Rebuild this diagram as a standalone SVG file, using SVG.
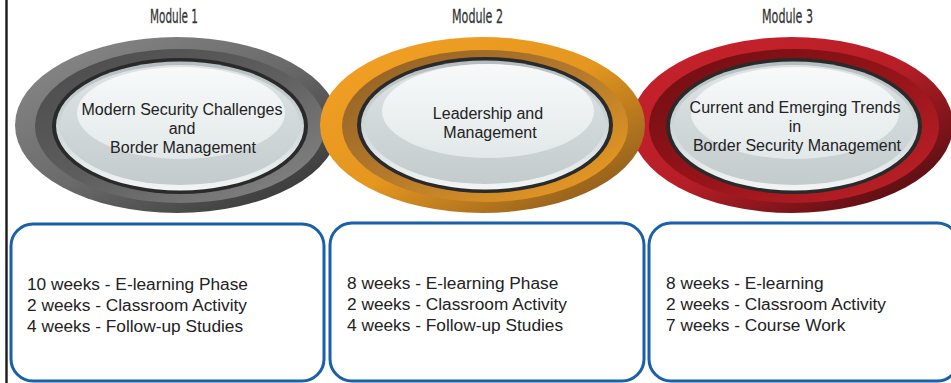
<svg xmlns="http://www.w3.org/2000/svg" width="951" height="383" viewBox="0 0 951 383">
<defs>
<linearGradient id="gOut" x1="0" y1="0" x2="1" y2="1"><stop offset="0" stop-color="#8c8c8c"/><stop offset="0.5" stop-color="#6a6a6a"/><stop offset="1" stop-color="#2c2c2c"/></linearGradient>
<linearGradient id="gBand" x1="0" y1="0" x2="1" y2="1"><stop offset="0" stop-color="#4a4a4a"/><stop offset="0.5" stop-color="#5e5e5e"/><stop offset="1" stop-color="#8a8a8a"/></linearGradient>
<linearGradient id="oOut" x1="0" y1="0" x2="1" y2="1"><stop offset="0" stop-color="#f5a125"/><stop offset="0.5" stop-color="#e4961f"/><stop offset="1" stop-color="#7a4e1c"/></linearGradient>
<linearGradient id="oBand" x1="0" y1="0" x2="1" y2="1"><stop offset="0" stop-color="#8f5f24"/><stop offset="0.5" stop-color="#b57a2c"/><stop offset="1" stop-color="#f2a020"/></linearGradient>
<linearGradient id="rOut" x1="0" y1="0" x2="1" y2="1"><stop offset="0" stop-color="#c8232c"/><stop offset="0.5" stop-color="#b81e27"/><stop offset="1" stop-color="#3c0a0c"/></linearGradient>
<linearGradient id="rBand" x1="0" y1="0" x2="1" y2="1"><stop offset="0" stop-color="#6e0e12"/><stop offset="0.5" stop-color="#941419"/><stop offset="1" stop-color="#c4222a"/></linearGradient>
<linearGradient id="rim" x1="0" y1="0" x2="0" y2="1"><stop offset="0" stop-color="#b4bdbf"/><stop offset="0.6" stop-color="#d5dcdd"/><stop offset="1" stop-color="#f2f5f5"/></linearGradient>
<linearGradient id="body" x1="0" y1="0" x2="0" y2="1"><stop offset="0" stop-color="#dfe5e6"/><stop offset="1" stop-color="#c3cbcd"/></linearGradient>
<linearGradient id="hi" x1="0" y1="0" x2="0" y2="1"><stop offset="0" stop-color="#f8fafa"/><stop offset="1" stop-color="#e2e8e9"/></linearGradient>
<style>
.ring{fill:#2a2a2a}
.rim{fill:url(#rim)}
.body{fill:url(#body)}
.hi{fill:url(#hi)}
.mod{font-family:"DejaVu Sans",sans-serif;font-size:19.5px;fill:#333;text-anchor:middle;stroke:#333;stroke-width:0.3}
.et{font-family:"Liberation Sans",Arial,sans-serif;font-size:16px;fill:#222;text-anchor:middle}
.bt{font-family:"Liberation Sans",Arial,sans-serif;font-size:17.3px;fill:#222}
.box{fill:#fff;stroke:#1a5fa9;stroke-width:3}
</style>
</defs>
<rect width="951" height="383" fill="#fff"/>
<line x1="6.5" y1="0" x2="6.5" y2="383" stroke="#1a1a1a" stroke-width="2.4"/>

<g id="labels">
<text class="mod" x="174" y="23" textLength="48" lengthAdjust="spacingAndGlyphs">Module 1</text>
<text class="mod" x="477.5" y="23" textLength="51" lengthAdjust="spacingAndGlyphs">Module 2</text>
<text class="mod" x="787.5" y="23" textLength="51" lengthAdjust="spacingAndGlyphs">Module 3</text>
</g>

<g id="module1">
<ellipse cx="177" cy="125" rx="162" ry="88" fill="url(#gOut)"/>
<ellipse cx="180" cy="126" rx="145" ry="77" fill="url(#gBand)"/>
<ellipse class="ring" cx="180" cy="126" rx="128" ry="68"/>
<ellipse class="rim" cx="180" cy="126" rx="124" ry="64.5"/>
<ellipse class="body" cx="180" cy="125" rx="120" ry="60"/>
<ellipse class="hi" cx="181" cy="113" rx="104" ry="46"/>
<text class="et" x="182" y="115">Modern Security Challenges</text>
<text class="et" x="182" y="134">and</text>
<text class="et" x="183" y="153">Border Management</text>
</g>

<g id="module3">
<ellipse cx="792" cy="125" rx="161" ry="88" fill="url(#rOut)"/>
<ellipse cx="794" cy="126" rx="145" ry="77" fill="url(#rBand)"/>
<ellipse class="ring" cx="794" cy="126" rx="128" ry="68"/>
<ellipse class="rim" cx="794" cy="126" rx="124" ry="64.5"/>
<ellipse class="body" cx="794" cy="125" rx="120" ry="60"/>
<ellipse class="hi" cx="795" cy="113" rx="104" ry="46"/>
<text class="et" x="795" y="113">Current and Emerging Trends</text>
<text class="et" x="795" y="132">in</text>
<text class="et" x="797" y="151">Border Security Management</text>
</g>

<g id="module2">
<ellipse cx="482.5" cy="125" rx="162.5" ry="88" fill="url(#oOut)"/>
<ellipse cx="485" cy="126" rx="143" ry="76" fill="url(#oBand)"/>
<ellipse class="ring" cx="485" cy="125" rx="128" ry="68"/>
<ellipse class="rim" cx="485" cy="125" rx="124" ry="64.5"/>
<ellipse class="body" cx="485" cy="124" rx="120" ry="60"/>
<ellipse class="hi" cx="488" cy="111" rx="106" ry="47"/>
<text class="et" x="488" y="119">Leadership and</text>
<text class="et" x="490" y="138">Management</text>
</g>

<g id="box1">
<rect class="box" x="11" y="224" width="313" height="157" rx="22"/>
<text class="bt" x="27" y="290">10 weeks - E-learning Phase</text>
<text class="bt" x="27" y="311">2 weeks - Classroom Activity</text>
<text class="bt" x="27" y="332">4 weeks - Follow-up Studies</text>
</g>
<g id="box2">
<rect class="box" x="330" y="223" width="314" height="158" rx="22"/>
<text class="bt" x="347" y="289">8 weeks - E-learning Phase</text>
<text class="bt" x="347" y="310">2 weeks - Classroom Activity</text>
<text class="bt" x="347" y="331">4 weeks - Follow-up Studies</text>
</g>
<g id="box3">
<rect class="box" x="649" y="223" width="310" height="158" rx="22"/>
<text class="bt" x="666" y="289">8 weeks - E-learning</text>
<text class="bt" x="666" y="310">2 weeks - Classroom Activity</text>
<text class="bt" x="666" y="331">7 weeks - Course Work</text>
</g>
<g id="connectors"></g>
</svg>
